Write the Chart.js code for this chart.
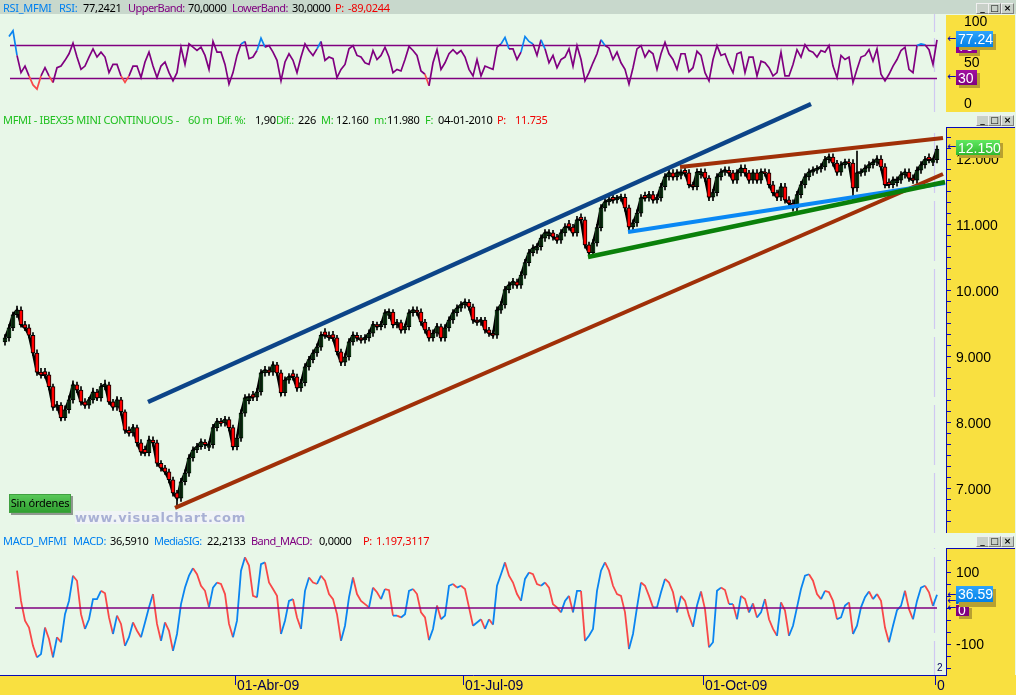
<!DOCTYPE html>
<html><head><meta charset="utf-8">
<script src="https://cdn.jsdelivr.net/npm/chart.js@4"></script>
<style>
html,body{margin:0;padding:0;width:1016px;height:695px;overflow:hidden;background:#E8F7E8;}
.abs{position:absolute;}
canvas{position:absolute;left:0;}
.yellow{position:absolute;left:946px;width:69px;background:#F9E040;box-sizing:border-box;}
.bl{border-left:1px solid #0A0AB4;border-top:1px solid #0A0AB4;}
.hdr{position:absolute;white-space:pre;font:11px "Noto Sans",sans-serif;line-height:14px;height:14px;letter-spacing:-.3px;}
.lab{letter-spacing:-.55px;}
.b{color:#0080F0}.k{color:#000}.p{color:#800080}.r{color:#F00000}.g{color:#20C020}
.tag{position:absolute;left:956px;color:#fff;font:14px "Liberation Sans",sans-serif;text-align:left;padding-left:2px;box-sizing:border-box;line-height:16px;box-shadow:3px 3px 0 #B8A030;}
.arr{position:absolute;left:947px;color:#0A0AB4;font:11px "DejaVu Sans",sans-serif;line-height:10px;}
.btn{position:absolute;width:11px;height:9px;background:#C8D0C8;border:1px solid #808080;border-top-color:#F0F0F0;border-left-color:#F0F0F0;font:bold 9px/8px "DejaVu Sans",sans-serif;text-align:center;color:#000;box-sizing:content-box;overflow:hidden;}
</style></head><body>
<div class="abs" style="left:0;top:0;width:1016px;height:14px;background:#C8D8CC"></div>
<div class="yellow" style="top:15px;height:97px"></div>
<div class="yellow bl" style="top:127px;height:406px"></div>
<div class="yellow bl" style="top:548px;height:127px"></div>
<div class="abs" style="left:0;top:675px;width:1016px;height:20px;background:#F9E040"></div>
<canvas id="rsiChart" style="top:14px"></canvas>
<canvas id="priceChart" style="top:100px"></canvas>
<canvas id="macdChart" style="top:548px"></canvas>
<div class="abs" style="left:9px;top:494px;width:60px;height:17px;background:linear-gradient(#58C858,#30A030);border:1px solid #40A040;box-shadow:2px 2px 0 #909890;font:11px/16px 'Noto Sans',sans-serif;color:#000;text-align:center;white-space:nowrap;letter-spacing:-.2px">Sin órdenes</div>
<div class="abs" style="left:75px;top:511px;width:170px;height:13px;background:#F0F4F6;font:bold 13px/13px 'DejaVu Sans',sans-serif;color:#A8B0D4;white-space:pre;letter-spacing:.75px">www.visualchart.com</div>
<div class="tag" style="top:38px;width:21px;height:15px;background:#900090">70</div>
<div class="tag" style="top:31px;width:37px;height:16px;background:linear-gradient(#30A4FA,#0080E8)">77.24</div>
<div class="tag" style="top:70px;width:21px;height:15px;background:linear-gradient(#A010A0,#800080)">30</div>
<div class="tag" style="top:140px;width:44px;height:15px;background:linear-gradient(#60E860,#30B830)">12.150</div>
<div class="tag" style="top:605px;width:13px;height:11px;background:#800080;line-height:11px">0</div>
<div class="tag" style="top:594px;width:37px;height:10px;background:#0068C8;line-height:10px;overflow:hidden">22.21</div>
<div class="tag" style="top:586px;width:37px;height:16px;background:linear-gradient(#30A4FA,#0080E8)">36.59</div>
<div class="arr" style="top:34px">←</div><div class="arr" style="top:72px">←</div><div class="arr" style="top:142px">←</div>
<div class="arr" style="top:590px">←</div><div class="arr" style="top:596px">←</div><div class="arr" style="top:603px">←</div>
<div class="abs" style="left:937px;top:662px;font:10px 'Liberation Sans',sans-serif;color:#000060">2</div>
<script>
for (const [t] of [[3],[115],[536]]) {
  [[976,'_'],[988,'□'],[1001,'×']].forEach(([l,g])=>{
    const d=document.createElement('div');d.className='btn';d.style.left=l+'px';d.style.top=t+'px';d.textContent=g;document.body.appendChild(d);
  });
}
const headerPieces = [
 [1,3,'b','RSI_MFMI'],[1,59,'b','RSI:'],[1,83,'k','77,2421'],[1,128,'p lab','UpperBand:'],[1,188,'k','70,0000'],[1,232,'p lab','LowerBand:'],[1,292,'k','30,0000'],[1,335,'r','P:'],[1,348,'r','-89,0244'],
 [113,3,'g','MFMI - IBEX35 MINI CONTINUOUS -'],[113,188,'g','60 m'],[113,217,'g lab','Dif. %:'],[113,255,'k','1,90'],[113,276,'g lab','Dif.:'],[113,298,'k','226'],[113,321,'g','M:'],[113,336,'k','12.160'],[113,374,'g','m:'],[113,387,'k','11.980'],[113,425,'g','F:'],[113,438,'k','04-01-2010'],[113,497,'r','P:'],[113,515,'r','11.735'],
 [534,3,'b','MACD_MFMI'],[534,73,'b','MACD:'],[534,110,'k','36,5910'],[534,154,'b lab','MediaSIG:'],[534,207,'k','22,2133'],[534,251,'p lab','Band_MACD:'],[534,319,'k','0,0000'],[534,363,'r','P:'],[534,376,'r','1.197,3117']
];
headerPieces.forEach(([t,l,c,s])=>{const d=document.createElement('div');d.className='hdr '+c;d.style.top=t+'px';d.style.left=l+'px';d.textContent=s;document.body.appendChild(d);});

const YELLOW_BLUE = '#0A0AB4';
const xRange = [-1.25, 235.25];
const cursorBar = 232.38;
const xTickBars = [57.5, 114.5, 174.5, 232.5];
const xTickLabels = ['01-Abr-09', '01-Jul-09', '01-Oct-09', '0'];

const opens = [9230,9290,9440,9640,9710,9490,9440,9330,9060,8770,
8780,8730,8550,8240,8270,8080,8200,8350,8580,8500,
8320,8270,8350,8470,8380,8550,8580,8320,8240,8350,
8170,7890,7850,7930,7700,7600,7550,7740,7700,7390,
7320,7260,7140,6940,6860,7110,7240,7470,7590,7640,
7710,7630,7670,7930,8020,8000,8050,7930,7640,7770,
8150,8340,8430,8390,8470,8760,8800,8770,8880,8760,
8460,8650,8750,8700,8530,8610,8850,8960,9060,9150,
9380,9330,9340,9290,9080,8920,9000,9230,9330,9290,
9260,9290,9360,9490,9460,9490,9630,9680,9490,9520,
9410,9460,9670,9710,9680,9530,9410,9290,9360,9460,
9290,9440,9560,9670,9740,9790,9830,9760,9560,9530,
9560,9410,9360,9330,9710,9790,10020,10090,10140,10090,
10240,10430,10580,10620,10670,10800,10840,10880,10820,10770,
10880,11020,10970,10880,11120,11080,10700,10580,10730,10960,
11260,11350,11420,11380,11410,11420,11260,10970,11030,11180,
11450,11410,11460,11380,11410,11580,11730,11790,11730,11750,
11830,11790,11610,11580,11760,11800,11710,11420,11490,11730,
11800,11830,11790,11680,11790,11860,11790,11680,11790,11680,
11800,11790,11610,11490,11420,11580,11380,11330,11260,11460,
11610,11730,11800,11830,11850,11880,11990,12030,11940,11800,
11910,11950,11940,11560,11790,11800,11860,11910,11950,12000,
11880,11650,11610,11640,11680,11760,11800,11710,11680,11830,
11910,12030,11950,11990];
const closes = [9290,9440,9640,9710,9490,9440,9330,9060,8770,8730,
8730,8550,8240,8270,8080,8200,8350,8580,8500,8320,
8270,8350,8470,8380,8550,8580,8320,8240,8350,8170,
7890,7850,7930,7700,7560,7550,7740,7700,7390,7320,
7260,7140,6940,6860,7110,7240,7470,7590,7640,7710,
7670,7670,7930,8020,8000,8050,7930,7640,7770,8150,
8380,8390,8390,8470,8760,8800,8770,8880,8760,8460,
8650,8700,8700,8530,8610,8850,8960,9060,9150,9330,
9330,9300,9290,9080,8920,9000,9230,9330,9290,9260,
9290,9360,9490,9460,9490,9670,9680,9490,9520,9410,
9460,9670,9710,9680,9530,9410,9290,9360,9460,9290,
9440,9560,9670,9740,9790,9830,9760,9560,9530,9560,
9410,9360,9330,9710,9790,10020,10090,10140,10090,10240,
10430,10580,10650,10670,10800,10880,10880,10820,10770,10880,
10970,10970,10880,11080,11080,10700,10580,10730,10960,11260,
11350,11380,11380,11410,11420,11260,10970,11030,11180,11410,
11410,11460,11380,11410,11580,11730,11790,11730,11790,11790,
11790,11610,11580,11800,11800,11710,11420,11490,11730,11800,
11830,11790,11680,11790,11860,11790,11680,11790,11680,11800,
11790,11610,11490,11420,11580,11380,11330,11260,11460,11610,
11730,11800,11830,11850,11880,11990,12030,11940,11800,11910,
11950,11940,11560,11790,11800,11860,11910,11950,12000,11880,
11610,11610,11680,11680,11760,11800,11710,11680,11830,11910,
11990,11990,11990,12150];
const highs = [9340,9490,9680,9770,9760,9540,9490,9370,9110,8830,
8830,8770,8590,8330,8310,8260,8410,8640,8620,8550,
8370,8390,8530,8510,8600,8650,8620,8360,8400,8390,
8200,7940,7980,7970,7750,7650,7800,7790,7740,7430,
7360,7300,7180,6980,7160,7290,7520,7640,7690,7760,
7750,7720,7980,8070,8070,8100,8090,7970,7820,8200,
8430,8440,8480,8520,8810,8860,8850,8930,8920,8800,
8700,8750,8800,8740,8660,8900,9010,9110,9200,9380,
9430,9380,9390,9330,9120,9050,9280,9380,9370,9330,
9340,9410,9540,9530,9540,9720,9730,9720,9570,9560,
9500,9720,9760,9760,9730,9570,9450,9410,9510,9500,
9490,9610,9720,9790,9840,9880,9870,9800,9600,9600,
9600,9450,9400,9760,9840,10070,10140,10190,10180,10290,
10480,10630,10700,10720,10850,10930,10930,10920,10860,10930,
11020,11070,11010,11130,11170,11120,10740,10780,11010,11310,
11400,11430,11470,11450,11470,11470,11300,11080,11230,11460,
11500,11510,11510,11460,11630,11780,11840,11840,11840,11840,
11880,11840,11650,11850,11850,11850,11750,11540,11780,11850,
11880,11880,11830,11840,11910,11910,11830,11840,11840,11850,
11850,11840,11660,11530,11630,11630,11430,11380,11510,11660,
11780,11850,11880,11900,11930,12040,12080,12080,11980,11960,
12000,12000,11990,12120,11850,11910,11960,12000,12050,12050,
11930,11700,11730,11730,11810,11850,11850,11760,11880,11960,
12040,12080,12000,12200];
const lows = [9180,9240,9400,9600,9450,9400,9290,9020,8720,8680,
8680,8500,8190,8190,8030,8040,8150,8300,8460,8270,
8220,8220,8300,8340,8330,8500,8280,8190,8190,8120,
7840,7800,7800,7650,7510,7500,7500,7650,7340,7270,
7220,7090,6890,6720,6810,7060,7190,7420,7550,7600,
7610,7580,7620,7880,7950,7950,7880,7590,7590,7720,
8100,8290,8340,8340,8420,8710,8720,8720,8720,8410,
8410,8600,8650,8480,8480,8560,8800,8910,9010,9100,
9280,9250,9240,9030,8870,8870,8950,9180,9240,9210,
9210,9240,9310,9410,9410,9440,9580,9440,9440,9360,
9360,9410,9620,9630,9480,9360,9240,9240,9310,9240,
9240,9390,9510,9620,9690,9740,9710,9510,9480,9480,
9360,9310,9280,9280,9660,9740,9970,10040,10040,10040,
10190,10380,10530,10570,10620,10750,10790,10770,10720,10720,
10830,10920,10830,10830,11030,10650,10530,10530,10680,10910,
11210,11300,11330,11330,11360,11210,10920,10920,10980,11130,
11360,11360,11330,11330,11360,11530,11680,11680,11680,11700,
11740,11560,11530,11530,11710,11660,11370,11370,11440,11680,
11750,11740,11630,11630,11740,11740,11630,11630,11630,11630,
11740,11560,11440,11370,11370,11330,11280,11210,11210,11410,
11560,11680,11750,11780,11800,11830,11940,11890,11750,11750,
11860,11890,11380,11510,11740,11750,11810,11860,11900,11830,
11560,11560,11560,11590,11630,11710,11660,11630,11630,11780,
11860,11940,11900,11940];
const rsiValues = [null,81,88,58,37,45,33,22,17,33,
43,33,25,43,45,52,60,73,56,41,
45,56,66,56,62,56,37,47,47,33,
25,33,45,45,31,50,62,45,31,45,
50,37,27,37,68,47,72,68,64,68,
58,41,75,62,62,47,23,37,58,72,
75,54,56,64,79,68,70,62,52,27,
50,60,52,37,56,72,64,58,66,75,
52,56,54,31,41,47,66,70,58,56,
49,47,64,53,58,68,56,37,41,39,
53,69,64,58,39,35,21,49,65,41,
49,60,65,60,64,56,41,33,53,33,
45,43,41,68,72,80,66,66,53,62,
81,75,72,58,77,66,49,58,43,53,
56,66,45,70,53,27,37,49,60,77,
70,67,53,62,49,41,23,43,66,70,
56,64,60,41,60,74,60,53,41,60,
60,38,43,63,58,37,27,53,70,58,
60,47,37,60,62,37,56,56,33,51,
49,43,33,37,62,33,33,47,65,56,
71,64,62,56,64,62,70,45,31,58,
53,56,25,41,56,58,65,51,66,35,
27,35,45,53,64,68,41,37,70,72,
71,65,47,77];
const macdValues = [null,null,null,104,20,-35,-54,-105,-137,-128,
-54,-86,-137,-81,-95,-17,20,90,76,-17,
-58,-31,25,25,48,41,-26,-72,-21,-44,
-105,-81,-40,-63,-81,-40,2,39,-44,-91,
-40,-63,-119,-72,11,57,90,111,94,62,
48,2,57,71,67,39,-44,-81,-35,104,
141,118,34,30,122,127,71,53,34,-72,
-35,20,25,-26,-58,48,85,71,67,90,
76,39,25,-17,-91,-49,30,85,39,20,
11,2,57,44,25,53,50,-21,-21,-26,
-17,48,53,39,-12,-26,-89,-58,7,-31,
-21,62,67,57,62,53,2,-49,-40,-31,
-58,-31,-46,62,94,127,90,71,39,20,
81,99,94,67,62,71,57,11,2,-12,
20,34,-12,48,48,-91,-77,-58,48,104,
127,104,62,39,34,-12,-114,-72,2,71,
62,34,2,2,44,81,71,44,-12,34,
20,-21,-52,7,46,-3,-109,-95,48,57,
50,11,11,-31,34,25,-12,13,-26,-12,
25,-31,-58,-77,16,-7,-77,-49,2,53,
90,94,76,39,25,48,44,20,-31,-26,
7,16,-72,-49,2,30,46,25,39,20,
-54,-95,-49,-6,6,48,-3,-31,20,57,
62,44,6,37];
const rsiBands = [70, 30];
const bandBars = [1.25, 233];
const zeroBars = [2.5, 233];
const trendNavy = {bars:[35.75,201.5], prices:[8319,12833], color:'#0C4488'};
const trendBrownLow = {bars:[42.5,234.5], prices:[6713,11773], color:'#A03008'};
const trendBrownTop = {bars:[168.75,234.5], prices:[11879,12318], color:'#A03008'};
const trendBlue = {bars:[155.75,235], prices:[10894,11636], color:'#0A88F4'};
const trendGreen = {bars:[145.75,235], prices:[10515,11652], color:'#0A800A'};
const rsiTicks = [0,50,100];
const priceLabelled = [7000,8000,9000,10000,11000,12000];
const macdLabelled = [-100,100];

const PURPLE='#800080', CURSOR='#D0C8F2';
const idx = a => a.map((_,i)=>i);
function lineDs(bars, ys, color, width, order, extra){
  return Object.assign({type:'line',data:bars.map((b,i)=>({x:b,y:ys[i]})),borderColor:color,borderWidth:width,pointRadius:0,order,tension:0,parsing:{xAxisKey:'x',yAxisKey:'y'}},extra||{});
}
function fitRight(s){s.width=70;s.paddingTop=0;s.paddingBottom=0;}
function hiddenX(){return {type:'linear',display:false,min:xRange[0],max:xRange[1],offset:false};}
const base = {responsive:false,animation:false,devicePixelRatio:1,events:[],layout:{padding:0},plugins:{legend:{display:false},tooltip:{enabled:false},title:{display:false}}};
const tickFont = {family:'"Liberation Sans"',size:14};

function mk(id,w,h,datasets,scales){
  const c=document.getElementById(id);c.width=w;c.height=h;c.style.width=w+'px';c.style.height=h+'px';
  return new Chart(c,{type:'line',data:{datasets},options:Object.assign({},base,{scales})});
}

/* RSI */
mk('rsiChart',1016,98,[
  lineDs(idx(rsiValues),rsiValues,PURPLE,1.7,2,{segment:{borderColor:c=>{const v=(c.p0.parsed.y+c.p1.parsed.y)/2;return v>70?'#0A84F0':v<30?'#F84848':PURPLE;}}}),
  lineDs(bandBars,[rsiBands[0],rsiBands[0]],PURPLE,1.5,3),
  lineDs(bandBars,[rsiBands[1],rsiBands[1]],PURPLE,1.5,3),
  lineDs([cursorBar,cursorBar],[-11,108.5],CURSOR,1.2,4,{borderDash:[34,6]})
],{
  x:hiddenX(),
  y:{position:'right',min:-11,max:108.5,afterFit:fitRight,afterBuildTicks:s=>{s.ticks=rsiTicks.map(value=>({value}));},
     grid:{display:false},border:{display:false},ticks:{color:'#000',font:tickFont,padding:10,labelOffset:1,autoSkip:false}}
});

/* Price candles: canvas starts 27px above the panel so the long trend line can leave it */
const candleData = idx(closes);
const wicks = candleData.map(i=>({x:i,y:[lows[i],highs[i]]}));
const isUp = i=>closes[i]>=opens[i];
const redBodies = candleData.filter(i=>!isUp(i)).map(i=>({x:i,y:[closes[i],opens[i]]}));
const greenBodies = candleData.filter(isUp).map(i=>({x:i,y:[opens[i],closes[i]]}));
const priceTop=12894, priceBottom=6333, panelTop=12485;
const closeRibbon = lineDs(candleData,closes,'#000',2.6,14);
function trend(t,w,o){return lineDs(t.bars,t.prices,t.color,w,o);}
mk('priceChart',1016,433,[
  trend(trendGreen,4.5,1),trend(trendBlue,4,2),trend(trendBrownLow,4,3),trend(trendBrownTop,4,3),trend(trendNavy,4.5,3),
  lineDs([cursorBar,cursorBar],[priceBottom,panelTop],CURSOR,1.2,20,{borderDash:[60,8]}),
  {type:'bar',data:redBodies,backgroundColor:'#FF0000',borderColor:'#000',borderWidth:1,borderSkipped:false,barThickness:4,grouped:false,order:10},
  {type:'bar',data:wicks,backgroundColor:'#000',borderWidth:0,barThickness:1,grouped:false,order:11},
  {type:'bar',data:greenBodies,backgroundColor:'#30B040',borderColor:'#000',borderWidth:1,borderSkipped:false,barThickness:4,grouped:false,order:12},
  closeRibbon
],{
  x:hiddenX(),
  y:{position:'right',min:priceBottom,max:priceTop,afterFit:fitRight,
     afterBuildTicks:s=>{const t=[];for(let k=-3;k<=33;k++){const v=7000+k*1000/6;if(v>=priceBottom&&v<=panelTop)t.push({value:v});}s.ticks=t;},
     grid:{drawOnChartArea:false,color:YELLOW_BLUE,tickLength:5},border:{display:false},
     ticks:{color:'#000',font:tickFont,padding:5,labelOffset:1.5,autoSkip:false,callback:v=>{const r=Math.round(v);return priceLabelled.includes(r)?String(r).replace(/(\d)(\d{3})$/,'$1.$2'):'';}}}
});

/* MACD */
mk('macdChart',1016,147,[
  lineDs(idx(macdValues),macdValues,'#0A84F0',1.8,2,{segment:{borderColor:c=>c.p1.parsed.y>=c.p0.parsed.y?'#0A84F0':'#F84848'}}),
  lineDs(zeroBars,[0,0],PURPLE,1.5,1),
  lineDs([cursorBar,cursorBar],[-186,167],CURSOR,1.2,4,{borderDash:[34,8]})
],{
  x:{type:'linear',position:'bottom',min:xRange[0],max:xRange[1],offset:false,
     afterFit:s=>{s.height=20;s.paddingLeft=0;s.paddingRight=0;},
     afterBuildTicks:s=>{s.ticks=xTickBars.map(value=>({value}));},
     grid:{drawOnChartArea:false,color:YELLOW_BLUE,tickLength:10},border:{color:YELLOW_BLUE,width:1},
     ticks:{color:'#000050',font:tickFont,align:'start',labelOffset:2,padding:-7,maxRotation:0,autoSkip:false,callback:v=>xTickLabels[xTickBars.indexOf(v)]}},
  y:{position:'right',min:-186,max:167,afterFit:fitRight,
     afterBuildTicks:s=>{const t=[];for(let k=-5;k<=5;k++){t.push({value:k*100/3});}s.ticks=t;},
     grid:{drawOnChartArea:false,color:YELLOW_BLUE,tickLength:5},border:{display:false},
     ticks:{color:'#000',font:tickFont,padding:5,labelOffset:1,autoSkip:false,callback:v=>{const r=Math.round(v);return macdLabelled.includes(r)?String(r):'';}}}
});
</script>
</body></html>
